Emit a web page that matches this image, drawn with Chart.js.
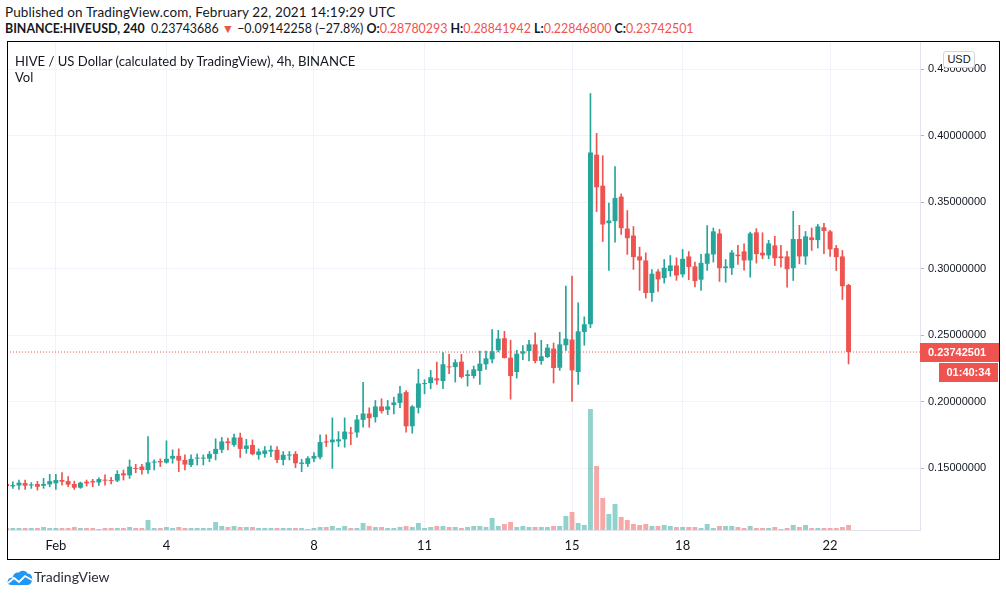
<!DOCTYPE html>
<html>
<head>
<meta charset="utf-8">
<title>HIVE / US Dollar, 4h, BINANCE</title>
<script src="https://cdn.jsdelivr.net/npm/chart.js@4.4.0/dist/chart.umd.min.js"></script>
<style>
  html, body { margin: 0; padding: 0; background: #fff; }
  body { width: 1006px; height: 596px; position: relative; overflow: hidden;
         font-family: Lato, "Liberation Sans", sans-serif; color: #131722; }
  #grafica { position: absolute; left: 0; top: 0; }
  .txt { position: absolute; white-space: nowrap; line-height: 16px; }
  .rojo { color: #ef5350; }
  #marco { position: absolute; left: 7px; top: 41px; width: 991px; height: 517px;
           border: 1px solid #000; pointer-events: none; }
  #usd { position: absolute; left: 943px; top: 51px; width: 30px; height: 15px;
         border: 1px solid #d1d4dc; border-radius: 3px; background: #fff;
         font: 11px "Liberation Sans", sans-serif; line-height: 15px; text-align: center; color: #131722; }
  #logo { position: absolute; left: 7px; top: 568px; height: 18px; }
  #logo svg { position: absolute; left: 0; top: 1px; }
  #logo span { position: absolute; left: 27px; top: 0; font-size: 14px; line-height: 18px; color: #2a2e39; white-space: nowrap; }
</style>
</head>
<body>

<div class="txt" style="left:5px; top:4px; font-size:13.5px; letter-spacing:0.12px;">Published on TradingView.com, February 22, 2021 14:19:29 UTC</div>
<div class="txt" style="left:5px; top:21px; font-size:12.4px;"><b>BINANCE:HIVEUSD, 240</b>&nbsp; 0.23743686 <span class="rojo">&#9660;</span> &minus;0.09142258 (&minus;27.8%) <b>O:</b><span class="rojo">0.28780293</span> <b>H:</b><span class="rojo">0.28841942</span> <b>L:</b><span class="rojo">0.22846800</span> <b>C:</b><span class="rojo">0.23742501</span></div>

<canvas id="grafica" width="1006" height="596"></canvas>
<div id="marco"></div>
<div class="txt" style="left:15px; top:53px; font-size:13.1px;">HIVE / US Dollar (calculated by TradingView), 4h, BINANCE</div>
<div class="txt" style="left:15px; top:69px; font-size:13px;">Vol</div>
<div id="usd">USD</div>
<div id="logo">
  <svg width="26" height="17" viewBox="0 0 26 17">
    <path d="M4 16 C1 16 0 13 1 11 C2 9 4 8.5 5.5 9 C6 5 9 3 12 3.5 C14 1 19 1 20.5 4.5 C24 4.5 26 8 25 11.5 C24.5 14.5 22.5 16 20 16 Z" fill="#2196f3"/>
    <polyline points="1,14 7,9 12,13 18,7 25,11" fill="none" stroke="#fff" stroke-width="1.8"/>
  </svg>
  <span>TradingView</span>
</div>

<script>
// ---------- DATOS (velas de 4h, desde el 30 ene 16:00) ----------

const aperturas = [
  0.1382, 0.1364, 0.1371, 0.1389, 0.1371, 0.1382, 0.1369, 0.1379, 0.1387, 0.1412,
  0.1404, 0.1382, 0.1354, 0.1399, 0.1404, 0.1394, 0.1412, 0.1409, 0.1407, 0.1462,
  0.1447, 0.1500, 0.1513, 0.1487, 0.1543, 0.1555, 0.1543, 0.1573, 0.1593, 0.1563,
  0.1525, 0.1573, 0.1573, 0.1573, 0.1608, 0.1639, 0.1702, 0.1676, 0.1732, 0.1646,
  0.1676, 0.1601, 0.1608, 0.1626, 0.1639, 0.1563, 0.1596, 0.1608, 0.1533, 0.1533,
  0.1573, 0.1583, 0.1702, 0.1696, 0.1703, 0.1718, 0.1769, 0.1769, 0.1864, 0.1912,
  0.1884, 0.1965, 0.1940, 0.1975, 0.1992, 0.2073, 0.1816, 0.1955, 0.2133, 0.2141,
  0.2176, 0.2156, 0.2266, 0.2261, 0.2302, 0.2194, 0.2194, 0.2231, 0.2282, 0.2319,
  0.2387, 0.2478, 0.2332, 0.2224, 0.2362, 0.2382, 0.2432, 0.2307, 0.2337, 0.2400,
  0.2256, 0.2425, 0.2468, 0.2224, 0.2525, 0.2583, 0.3858, 0.3625, 0.3343, 0.3358,
  0.3543, 0.3303, 0.3250, 0.3093, 0.3063, 0.2818, 0.2980, 0.2930, 0.2983, 0.3025,
  0.2958, 0.3093, 0.3018, 0.2918, 0.3038, 0.3108, 0.3266, 0.3005, 0.3005, 0.3106,
  0.3131, 0.3063, 0.3274, 0.3121, 0.3101, 0.3176, 0.3093, 0.3093, 0.3005, 0.3224,
  0.3093, 0.3236, 0.3216, 0.3312, 0.3281, 0.3156, 0.3093, 0.28780293
];

const maximos = [
  0.1392, 0.1399, 0.1412, 0.1412, 0.1392, 0.1402, 0.1424, 0.1455, 0.1455, 0.1467,
  0.1437, 0.1404, 0.1397, 0.1412, 0.1417, 0.1429, 0.1450, 0.1432, 0.1482, 0.1487,
  0.1563, 0.1530, 0.1530, 0.1739, 0.1563, 0.1571, 0.1707, 0.1639, 0.1646, 0.1601,
  0.1601, 0.1608, 0.1601, 0.1626, 0.1722, 0.1732, 0.1727, 0.1757, 0.1765, 0.1719,
  0.1714, 0.1646, 0.1664, 0.1669, 0.1664, 0.1626, 0.1626, 0.1626, 0.1568, 0.1588,
  0.1618, 0.1752, 0.1752, 0.1879, 0.1776, 0.1879, 0.1809, 0.1899, 0.2146, 0.1955,
  0.2010, 0.2023, 0.2010, 0.2035, 0.2116, 0.2085, 0.1972, 0.2244, 0.2166, 0.2236,
  0.2299, 0.2370, 0.2357, 0.2317, 0.2357, 0.2236, 0.2269, 0.2382, 0.2382, 0.2543,
  0.2538, 0.2530, 0.2463, 0.2387, 0.2422, 0.2463, 0.2518, 0.2463, 0.2432, 0.2442,
  0.2523, 0.2870, 0.2945, 0.2744, 0.2639, 0.4318, 0.4018, 0.3850, 0.3495, 0.3768,
  0.3563, 0.3438, 0.3318, 0.3163, 0.3120, 0.2995, 0.2995, 0.3070, 0.3100, 0.3083,
  0.3145, 0.3130, 0.3050, 0.3108, 0.3325, 0.3307, 0.3297, 0.3070, 0.3138, 0.3176,
  0.3188, 0.3276, 0.3302, 0.3271, 0.3214, 0.3244, 0.3176, 0.3131, 0.3432, 0.3327,
  0.3281, 0.3307, 0.3334, 0.3342, 0.3289, 0.3176, 0.3138, 0.28841942
];

const minimos = [
  0.1361, 0.1349, 0.1341, 0.1341, 0.1349, 0.1336, 0.1349, 0.1361, 0.1341, 0.1374,
  0.1361, 0.1341, 0.1349, 0.1366, 0.1361, 0.1371, 0.1374, 0.1382, 0.1399, 0.1412,
  0.1424, 0.1467, 0.1455, 0.1462, 0.1487, 0.1513, 0.1538, 0.1538, 0.1475, 0.1487,
  0.1513, 0.1525, 0.1525, 0.1550, 0.1563, 0.1618, 0.1639, 0.1664, 0.1581, 0.1613,
  0.1601, 0.1568, 0.1583, 0.1588, 0.1543, 0.1525, 0.1563, 0.1505, 0.1475, 0.1513,
  0.1550, 0.1571, 0.1664, 0.1500, 0.1663, 0.1658, 0.1678, 0.1734, 0.1809, 0.1809,
  0.1847, 0.1915, 0.1904, 0.1909, 0.1955, 0.1771, 0.1764, 0.1915, 0.2060, 0.2098,
  0.2131, 0.2098, 0.2211, 0.2148, 0.2178, 0.2118, 0.2178, 0.2131, 0.2244, 0.2292,
  0.2375, 0.2329, 0.2020, 0.2178, 0.2317, 0.2307, 0.2292, 0.2282, 0.2332, 0.2141,
  0.2236, 0.2387, 0.2003, 0.2131, 0.2425, 0.2558, 0.3430, 0.3205, 0.2988, 0.3200,
  0.3258, 0.3108, 0.2995, 0.2838, 0.2780, 0.2755, 0.2830, 0.2893, 0.2943, 0.2913,
  0.2938, 0.2918, 0.2863, 0.2838, 0.2988, 0.3050, 0.2905, 0.2899, 0.2957, 0.3033,
  0.2990, 0.2937, 0.3043, 0.3075, 0.3075, 0.3025, 0.3013, 0.2862, 0.2912, 0.3038,
  0.3033, 0.3138, 0.3156, 0.3113, 0.3093, 0.2987, 0.2769, 0.22846800
];

const cierres = [
  0.1366, 0.1374, 0.1392, 0.1369, 0.1377, 0.1361, 0.1382, 0.1404, 0.1412, 0.1399,
  0.1377, 0.1354, 0.1392, 0.1387, 0.1394, 0.1419, 0.1407, 0.1404, 0.1457, 0.1447,
  0.1513, 0.1495, 0.1487, 0.1545, 0.1548, 0.1545, 0.1571, 0.1593, 0.1558, 0.1528,
  0.1571, 0.1578, 0.1576, 0.1608, 0.1646, 0.1702, 0.1689, 0.1732, 0.1646, 0.1671,
  0.1606, 0.1626, 0.1634, 0.1639, 0.1563, 0.1601, 0.1601, 0.1538, 0.1543, 0.1576,
  0.1593, 0.1697, 0.1694, 0.1716, 0.1718, 0.1776, 0.1761, 0.1867, 0.1912, 0.1877,
  0.1965, 0.1930, 0.1965, 0.1995, 0.2063, 0.1816, 0.1965, 0.2138, 0.2141, 0.2184,
  0.2161, 0.2282, 0.2259, 0.2297, 0.2186, 0.2206, 0.2244, 0.2287, 0.2327, 0.2380,
  0.2475, 0.2329, 0.2194, 0.2362, 0.2380, 0.2432, 0.2307, 0.2342, 0.2407, 0.2254,
  0.2432, 0.2475, 0.2236, 0.2530, 0.2583, 0.3875, 0.3613, 0.3333, 0.3363, 0.3533,
  0.3305, 0.3230, 0.3088, 0.3063, 0.2818, 0.2963, 0.2920, 0.3008, 0.3025, 0.2950,
  0.3075, 0.3013, 0.2908, 0.3045, 0.3115, 0.3281, 0.3005, 0.3018, 0.3123, 0.3095,
  0.3063, 0.3266, 0.3111, 0.3101, 0.3191, 0.3080, 0.3080, 0.2997, 0.3224, 0.3093,
  0.3244, 0.3216, 0.3319, 0.3284, 0.3146, 0.3088, 0.2869, 0.23742501
];

// volumen relativo (altura)
const volumenes = [
  2, 2, 2, 2, 2, 2, 3, 2, 2, 2,
  2, 3, 2, 2, 2, 1, 2, 2, 2, 2,
  3, 2, 2, 10, 2, 2, 3, 2, 3, 2,
  2, 2, 2, 2, 8, 4, 3, 4, 3, 3,
  3, 2, 2, 2, 2, 2, 2, 2, 2, 1,
  2, 3, 3, 4, 2, 4, 2, 2, 7, 4,
  3, 3, 2, 2, 3, 4, 3, 7, 2, 3,
  4, 4, 3, 3, 2, 3, 4, 4, 3, 12,
  4, 6, 8, 3, 4, 3, 3, 3, 3, 4,
  4, 14, 18, 7, 5, 121, 64, 32, 16, 26,
  13, 10, 6, 5, 6, 4, 4, 5, 4, 3,
  3, 3, 3, 2, 6, 2, 4, 4, 4, 3,
  2, 4, 2, 2, 2, 3, 1, 2, 5, 3,
  5, 2, 2, 2, 2, 2, 3, 5
];

// etiquetas del eje de tiempo (indice de vela -> texto)
const fechaIdx = [8, 26, 50, 68, 92, 110, 134];
const fechaTxt = ['Feb', '4', '8', '11', '15', '18', '22'];

// etiquetas del eje de precios
const precioTicks = [0.15, 0.20, 0.25, 0.30, 0.35, 0.40, 0.45];

const ultimoPrecio = 0.23742501;
const cuentaAtras = '01:40:34';

// ---------- COLORES ----------
const verde = '#26a69a';
const rojo = '#ef5350';
const verdeVol = 'rgba(38,166,154,0.5)';
const rojoVol = 'rgba(239,83,80,0.5)';

const subida = i => cierres[i] >= aperturas[i];

const xMin = 0.05, xMax = 148.63;
const yMin = 0.10361, yMax = 0.47128;

const indices = aperturas.map((_, i) => i);

// ---------- PLUGINS ----------
const etiquetaPrecio = {
  id: 'etiquetaPrecio',
  afterDraw(chart) {
    const ctx = chart.ctx;
    const ejeY = chart.scales.y;
    const y = Math.round(ejeY.getPixelForValue(ultimoPrecio));
    ctx.save();
    ctx.fillStyle = rojo;
    ctx.fillRect(ejeY.left, y - 9, 79, 19);
    ctx.fillRect(ejeY.left + 19, y + 11, 59, 19);
    ctx.fillStyle = '#fff';
    ctx.font = 'bold 11px "Liberation Sans", sans-serif';
    ctx.textBaseline = 'middle';
    ctx.textAlign = 'left';
    ctx.fillText(ultimoPrecio.toFixed(8), ejeY.left + 8, y + 1);
    ctx.textAlign = 'center';
    ctx.fillText(cuentaAtras, ejeY.left + 48.5, y + 21);
    ctx.restore();
  }
};

// ---------- GRAFICA ----------
new Chart(document.getElementById('grafica'), {
  type: 'bar',
  data: {
    datasets: [
      {
        label: 'Vol',
        yAxisID: 'v',
        order: 4,
        grouped: false,
        data: indices.map(i => ({ x: i, y: volumenes[i] })),
        backgroundColor: c => subida(c.dataIndex) ? verdeVol : rojoVol,
        barPercentage: 0.8,
        categoryPercentage: 1.0
      },
      {
        label: 'Mechas',
        yAxisID: 'y',
        order: 3,
        grouped: false,
        data: indices.map(i => ({ x: i, y: [minimos[i], maximos[i]] })),
        backgroundColor: c => subida(c.dataIndex) ? verde : rojo,
        barThickness: 1
      },
      {
        label: 'Cuerpos',
        yAxisID: 'y',
        order: 2,
        grouped: false,
        data: indices.map(i => ({ x: i, y: [aperturas[i], cierres[i]] })),
        backgroundColor: c => subida(c.dataIndex) ? verde : rojo,
        barPercentage: 0.8,
        categoryPercentage: 1.0,
        minBarLength: 1
      },
      {
        type: 'line',
        label: 'Ultimo',
        yAxisID: 'y',
        order: 1,
        data: [{ x: xMin, y: ultimoPrecio }, { x: xMax, y: ultimoPrecio }],
        borderColor: rojo,
        borderWidth: 1,
        borderDash: [1, 2],
        pointRadius: 0,
        fill: false
      }
    ]
  },
  options: {
    responsive: false,
    animation: false,
    layout: { padding: { left: 7, top: 41, right: 7, bottom: 37 } },
    plugins: {
      legend: { display: false },
      tooltip: { enabled: false }
    },
    scales: {
      x: {
        type: 'linear',
        min: xMin,
        max: xMax,
        offset: false,
        afterBuildTicks: s => { s.ticks = fechaIdx.map(v => ({ value: v })); },
        afterFit: s => { s.height = 29; },
        ticks: {
          autoSkip: false,
          maxRotation: 0,
          padding: 8,
          color: '#131722',
          font: { family: 'Lato', size: 13 },
          callback: v => fechaTxt[fechaIdx.indexOf(v)]
        },
        grid: { color: '#f0f3fa', drawTicks: false, offset: false },
        border: { color: '#e0e3eb' }
      },
      y: {
        type: 'linear',
        position: 'right',
        min: yMin,
        max: yMax,
        afterBuildTicks: s => { s.ticks = precioTicks.map(v => ({ value: v })); },
        afterFit: s => { s.width = 79; },
        ticks: {
          padding: 4,
          color: '#131722',
          font: { family: 'Liberation Sans', size: 11 },
          callback: v => v.toFixed(8)
        },
        grid: { color: '#f0f3fa', tickColor: '#b2b5be', tickLength: 4 },
        border: { color: '#e0e3eb' }
      },
      v: {
        type: 'linear',
        position: 'left',
        display: false,
        min: 0,
        max: 489
      }
    }
  },
  plugins: [etiquetaPrecio]
});
</script>
</body>
</html>
